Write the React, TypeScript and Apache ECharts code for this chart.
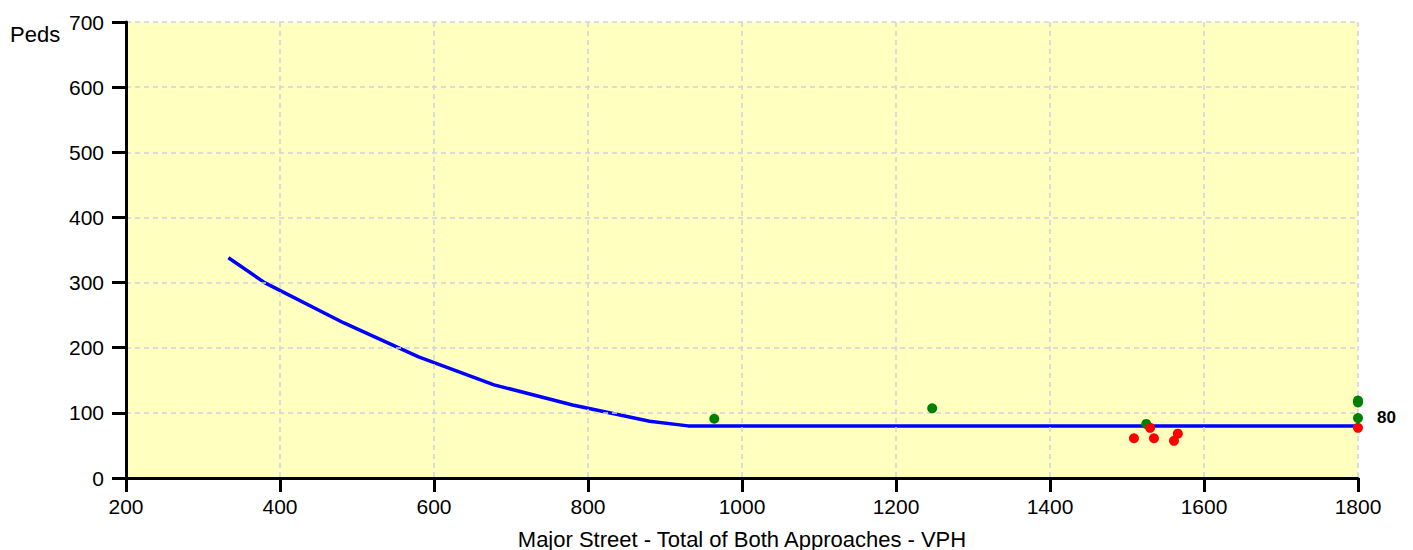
import React, { useEffect, useRef } from "react";
import * as echarts from "echarts";

// Warrant curve (Major street VPH vs Peds)
const curveX = [333, 380, 483, 580, 678, 780, 880, 930, 1800];
const curveY = [338, 300, 238, 186, 143, 112, 87, 80, 80];

// Observed hours above/near the curve (green)
const greenX = [964, 1247, 1525, 1800, 1800, 1800];
const greenY = [91, 107, 83, 116, 119, 92];

// Observed hours below the curve (red)
const redX = [1509, 1530, 1535, 1561, 1566, 1800];
const redY = [61, 77, 61, 57, 68, 77];

const xTicks = { min: 200, max: 1800, interval: 200 };
const yTicks = { min: 0, max: 700, interval: 100 };

const xName = "Major Street - Total of Both Approaches - VPH";
const yName = "Peds";

const FONT = "Liberation Sans, Arial, sans-serif";

export default function App() {
  const ref = useRef<HTMLDivElement>(null);
  useEffect(() => {
    document.body.style.margin = "0";
    if (!ref.current) return;
    const chart = echarts.init(ref.current, undefined, { renderer: "svg" });
    const pair = (xs: number[], ys: number[]) => xs.map((x, i) => [x, ys[i]]);
    const gridLineStyle = { color: "#D2D2DE", width: 1.5, type: [5, 4] };
    chart.setOption({
      animation: false,
      textStyle: { fontFamily: FONT },
      grid: {
        left: 126,
        right: 55,
        top: 22,
        bottom: 72,
        show: true,
        backgroundColor: "#FFFFC0",
        borderWidth: 0,
        containLabel: false,
        outerBoundsMode: "none",
      },
      xAxis: {
        type: "value",
        min: xTicks.min,
        max: xTicks.max,
        interval: xTicks.interval,
        z: 4,
        name: xName,
        nameLocation: "middle",
        nameGap: 50,
        nameTextStyle: { fontSize: 22, color: "#000", fontFamily: FONT },
        axisLine: { show: true, onZero: false, lineStyle: { color: "#000", width: 3 } },
        axisTick: { show: true, length: 14, lineStyle: { color: "#000", width: 3 } },
        axisLabel: {
          margin: 18,
          fontSize: 21,
          color: "#000",
          fontFamily: FONT,
          formatter: (v: number) => String(v),
        },
        splitLine: { show: true, showMinLine: false, lineStyle: gridLineStyle },
      },
      yAxis: {
        type: "value",
        min: yTicks.min,
        max: yTicks.max,
        interval: yTicks.interval,
        z: 3,
        axisLine: { show: true, onZero: false, lineStyle: { color: "#000", width: 3 } },
        axisTick: { show: true, length: 14, lineStyle: { color: "#000", width: 3 } },
        axisLabel: {
          margin: 22,
          fontSize: 21,
          color: "#000",
          fontFamily: FONT,
          formatter: (v: number) => String(v),
        },
        splitLine: { show: true, showMinLine: false, lineStyle: gridLineStyle },
      },
      graphic: [
        {
          type: "text",
          left: 10,
          top: 23,
          style: { text: yName, fontSize: 22, fill: "#000", fontFamily: FONT },
        },
      ],
      series: [
        {
          type: "line",
          data: pair(curveX, curveY),
          showSymbol: false,
          symbol: "none",
          z: 2,
          lineStyle: { color: "#0000FF", width: 3.5 },
          endLabel: {
            show: true,
            formatter: (p: any) => String(p.value[1]),
            distance: 19,
            offset: [0, -8],
            fontSize: 17,
            fontWeight: "bold",
            color: "#000",
            fontFamily: FONT,
          },
        },
        {
          type: "scatter",
          data: pair(greenX, greenY),
          symbolSize: 10,
          z: 5,
          itemStyle: { color: "#008000", opacity: 1 },
        },
        {
          type: "scatter",
          data: pair(redX, redY),
          symbolSize: 10,
          z: 6,
          itemStyle: { color: "#FF0000", opacity: 1 },
        },
      ],
    });
    return () => chart.dispose();
  }, []);
  return <div ref={ref} style={{ width: 1413, height: 550 }} />;
}
